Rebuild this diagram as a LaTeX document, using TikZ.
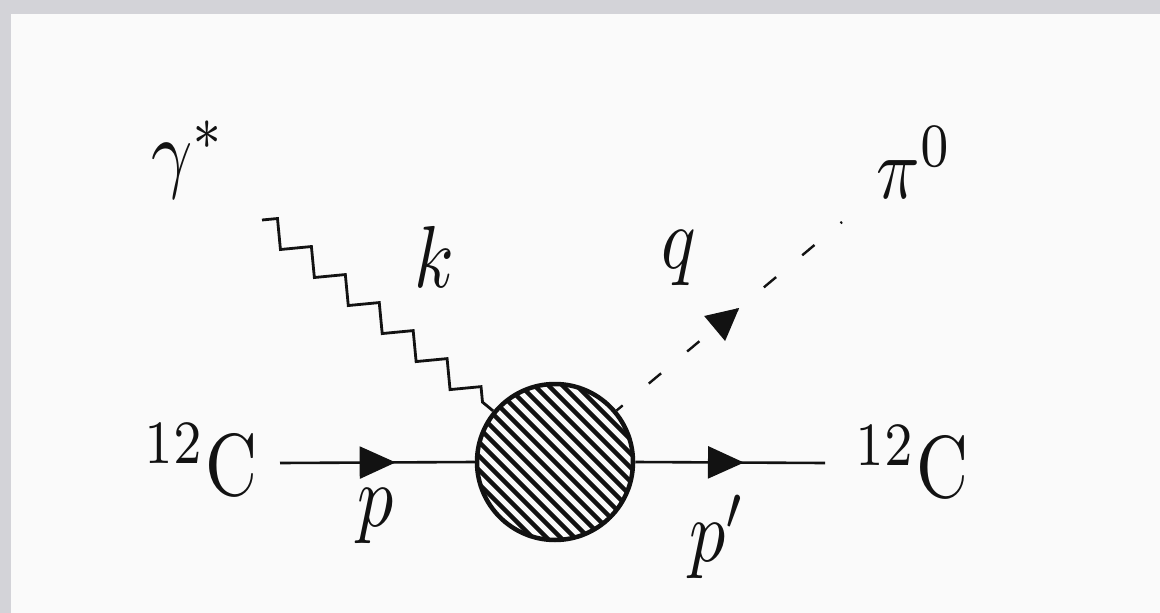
\documentclass[tikz,border=0pt]{standalone}
\usetikzlibrary{decorations.pathmorphing,decorations.markings,arrows.meta}
\definecolor{frame}{HTML}{D3D3D8}
\definecolor{paper}{HTML}{FAFAFA}
\definecolor{ink}{HTML}{121212}
\tikzset{
  lbl/.style={xscale=7.2, yscale=8.8, inner sep=0pt, text=ink},
  fermion/.style={draw=ink, line width=2.6pt, postaction={decorate},
    decoration={markings, mark=at position #1 with {\arrow{Triangle[length=36pt,width=32pt]}}}},
  scalarline/.style={draw=ink, line width=2.4pt, dash pattern=on 16pt off 34pt, dash phase=8pt,
    postaction={decorate},
    decoration={markings, mark=at position #1 with {\arrow[ink]{Triangle[length=32pt,width=32pt]}}}},
  photon/.style={draw=ink, line width=2.8pt, decorate,
    decoration={zigzag, amplitude=11pt, segment length=44pt}},
  blobstyle/.style={circle, draw=ink, line width=4.5pt, minimum size=156pt, inner sep=0pt, fill=paper,
    path picture={
      \foreach \i in {-14,...,14}
        \draw[ink, line width=4.4pt]
          ([xshift=\i*14pt]path picture bounding box.center) ++(-110pt,110pt) -- ++(220pt,-220pt);
    }},
}
\begin{document}
\begin{tikzpicture}[x=1pt,y=-1pt]
  \fill[frame] (0,0) rectangle (1160,613);
  \fill[paper] (11,14) rectangle (1160,613);
  \useasboundingbox (0,0) rectangle (1160,613);

  \node[blobstyle] (blob) at (555,462) {};

  \coordinate (inL) at (280,463);
  \coordinate (outR) at (825,463);
  \coordinate (phs) at (262,220);
  \coordinate (pie) at (842,222);

  \draw[fermion=0.594] (inL) -- (blob.west);
  \draw[fermion=0.573] (blob.east) -- (outR);
  \draw[photon] (phs) -- (blob);
  \draw[scalarline=0.544] (blob) -- (pie);

  \node[lbl, anchor=base west] (gam) at (150,181) {$\gamma^*$};
  \node[lbl, anchor=base] (klab) at (434,287) {$k$};
  \node[lbl, anchor=base] (qlab) at (679,268) {$q$};
  \node[lbl, anchor=base west] (pilab) at (875,198) {$\pi^0$};
  \node[lbl, anchor=base] (plab) at (376,526) {$p$};
  \node[lbl, anchor=base west] (pplab) at (688,561) {$p'$};
  \node[lbl, anchor=base west] (cl) at (143,495) {${}^{12}$C};
  \node[lbl, anchor=base west] (cr) at (854,497) {${}^{12}$C};
\end{tikzpicture}
\end{document}
